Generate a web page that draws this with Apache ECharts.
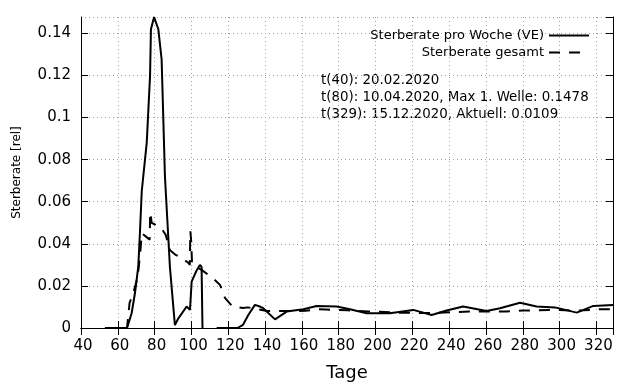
<!DOCTYPE html>
<html>
<head>
<meta charset="utf-8">
<script src="https://cdn.jsdelivr.net/npm/echarts@6/dist/echarts.min.js"></script>
<style>
html,body{margin:0;padding:0;background:#fff;}
#chart{width:640px;height:384px;}
</style>
</head>
<body>
<div id="chart"></div>
<script>
// Sterberate pro Woche (VE)
const weekDays = [53, 65, 67.5, 69.3, 71.1, 72, 73, 75.7, 77.5, 78, 79.7, 82, 83.8, 85.6, 88.3, 91, 92.9, 97.4, 99.2, 100.1, 102.5, 104.6, 105.5, 106, 107, 113.7, 125, 128, 130.9, 132.7, 134.5, 137.2, 139, 145.4, 151.7, 160.8, 168, 178.9, 186.1, 195.2, 207.8, 220.5, 230.5, 238.6, 247.6, 260.3, 267.6, 278.5, 287.5, 297.5, 309.3, 318.3, 329];
const weekRate = [0, 0, 0.007, 0.0165, 0.029, 0.045, 0.065, 0.088, 0.1197, 0.142, 0.1478, 0.142, 0.1276, 0.072, 0.029, 0.0014, 0.0046, 0.0102, 0.0086, 0.022, 0.0268, 0.030, 0.029, 0, null, 0, 0, 0.0015, 0.0062, 0.0086, 0.011, 0.0102, 0.0094, 0.0041, 0.0078, 0.0089, 0.0105, 0.0102, 0.0089, 0.007, 0.007, 0.0086, 0.0062, 0.0083, 0.0102, 0.0081, 0.0094, 0.012, 0.0102, 0.0098, 0.0073, 0.0105, 0.0109];

// Sterberate gesamt
const totalDays = [53, 65, 66.4, 68.4, 70.7, 71.5, 72.2, 73, 77.3, 77.6, 78.4, 83.5, 86, 88.4, 91, 95, 98.3, 99.1, 99.4, 99.9, 100.3, 102.5, 105.5, 111.5, 115.5, 118.2, 122.4, 128, 130.7, 134, 141, 146, 157, 162, 168, 173, 185, 196, 202, 211, 217, 224, 230, 240, 251, 257, 266, 271, 280, 286, 294, 300, 307, 313, 322, 329];
const totalRate = [0, 0, 0.012, 0.0165, 0.024, 0.03, 0.036, 0.045, 0.042, 0.055, 0.050, 0.0476, 0.0443, 0.037, 0.035, 0.033, 0.031, 0.030, 0.046, 0.041, 0.031, 0.029, 0.0276, 0.0238, 0.0205, 0.0143, 0.0101, 0.0095, 0.0098, 0.0092, 0.0081, 0.0081, 0.0081, 0.0082, 0.0089, 0.0088, 0.0084, 0.0078, 0.0077, 0.0073, 0.0073, 0.0071, 0.0071, 0.0075, 0.0078, 0.0078, 0.0078, 0.0079, 0.0083, 0.0083, 0.0086, 0.0086, 0.0083, 0.0084, 0.0089, 0.0089];

const seriesNames = ['Sterberate pro Woche (VE)', 'Sterberate gesamt'];
const xTitle = 'Tage';
const yTitle = 'Sterberate [rel]';
const notes = ['t(40): 20.02.2020', 't(80): 10.04.2020, Max 1. Welle: 0.1478', 't(329): 15.12.2020, Aktuell: 0.0109'];

const xMin = 40, xMax = 329, xStep = 20;
const yMin = 0, yMax = 0.1478, yStep = 0.02;

const FONT = 'DejaVu Sans';
const pairs = (xs, ys) => xs.map((x, i) => [x, ys[i] === null ? '-' : ys[i]]);
const onStep = (v, s) => Math.abs(v / s - Math.round(v / s)) < 1e-6;

const chart = echarts.init(document.getElementById('chart'), null, {renderer: 'canvas'});

const gridLine = {show: true, lineStyle: {color: '#a0a0a0', width: 1, type: [1, 3]}};
const axisLineBlack = {show: true, lineStyle: {color: '#000', width: 1}};
const tickIn = {show: true, inside: true, length: 7, lineStyle: {color: '#000', width: 1}};

const legendBase = {
  orient: 'vertical', right: 45, align: 'right',
  itemWidth: 40, itemHeight: 12, itemGap: 8,
  itemStyle: {color: 'transparent', borderColor: 'transparent', borderWidth: 0, opacity: 0},
  textStyle: {color: '#000', fontSize: 13, fontFamily: FONT}
};

chart.setOption({
  animation: false,
  backgroundColor: '#fff',
  grid: {left: 81, right: 27, top: 17, bottom: 56, containLabel: false, outerBoundsMode: 'none'},
  xAxis: [{
    type: 'value', min: xMin, max: xMax, interval: xStep,
    axisLine: axisLineBlack, axisTick: tickIn, splitLine: gridLine,
    axisLabel: {show: true, color: '#000', fontSize: 15, fontFamily: FONT, margin: 11, showMaxLabel: false,
      padding: [0, 0, 0, 4],
      formatter: v => onStep(v, xStep) ? String(v) : ''},
    name: xTitle, nameLocation: 'middle', nameGap: 36,
    nameTextStyle: {color: '#000', fontSize: 18, fontFamily: FONT}
  }, {
    type: 'value', position: 'top', min: xMin, max: xMax, interval: xStep,
    axisLine: axisLineBlack, axisTick: tickIn, splitLine: {show: false}, axisLabel: {show: false}
  }],
  yAxis: [{
    type: 'value', min: yMin, max: yMax, interval: yStep,
    axisLine: axisLineBlack, axisTick: tickIn, splitLine: gridLine,
    axisLabel: {show: true, color: '#000', fontSize: 15, fontFamily: FONT, margin: 10, showMaxLabel: false,
      formatter: v => onStep(v, yStep) ? String(+v.toFixed(2)) : ''},
    name: yTitle, nameLocation: 'middle', nameGap: 58, nameRotate: 90,
    nameTextStyle: {color: '#000', fontSize: 12, fontFamily: FONT}
  }, {
    type: 'value', position: 'right', min: yMin, max: yMax, interval: yStep,
    axisLine: axisLineBlack, axisTick: tickIn, splitLine: {show: false}, axisLabel: {show: false}
  }],
  legend: [
    Object.assign({}, legendBase, {data: [seriesNames[0]], top: 24}),
    Object.assign({}, legendBase, {data: [seriesNames[1]], top: 41})
  ],
  graphic: notes.map((t, i) => ({
    type: 'text', left: 321, top: 74 + i * 17,
    style: {text: t, fill: '#000', font: '13.4px "' + FONT + '"'}
  })),
  series: [{
    name: seriesNames[0], type: 'line', data: pairs(weekDays, weekRate),
    showSymbol: false, symbol: 'none', connectNulls: false,
    lineStyle: {color: '#000', width: 2, type: 'solid'}, itemStyle: {color: '#000'}
  }, {
    name: seriesNames[1], type: 'line', data: pairs(totalDays, totalRate),
    showSymbol: false, symbol: 'none',
    lineStyle: {color: '#000', width: 2, type: [11, 9]}, itemStyle: {color: '#000'}
  }]
});
</script>
</body>
</html>
